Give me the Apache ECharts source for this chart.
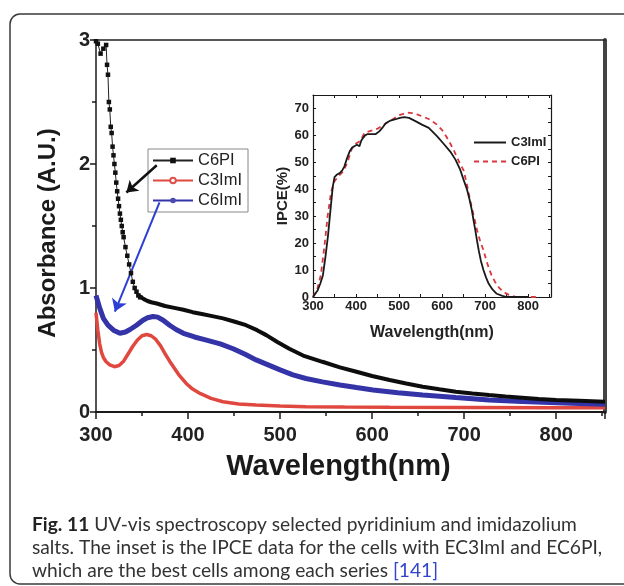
<!DOCTYPE html>
<html><head><meta charset="utf-8">
<script src="https://cdn.jsdelivr.net/npm/echarts@6/dist/echarts.min.js"></script>
<style>html,body{margin:0;padding:0;background:#fff}#c{width:624px;height:586px}</style>
</head><body><div id="c"></div>
<script>
// ---------- Main chart: UV-vis absorbance ----------
const xTickLabels = [300, 400, 500, 600, 700, 800];
const yTickLabels = [0, 1, 2, 3];

const c6piNm = [300,302,305,308,311,312,313,314,315,316,317,318,319,320,321,322,323,324,325,326,327,328,329,330,332,334,336,338,340,342,344,346,348,352,356,360,366,375,385,395,405,415,425,438,450,463,475,485,497,510,525,546,565,583,600,619,637,655,673,691,709,727,745,763,781,800,825,853];
const c6piAbs = [2.99,2.97,2.89,2.93,2.96,2.80,2.72,2.50,2.44,2.30,2.25,2.14,2.07,2.00,1.93,1.85,1.78,1.72,1.66,1.60,1.55,1.50,1.45,1.41,1.33,1.26,1.19,1.12,1.05,1.00,0.97,0.94,0.925,0.91,0.895,0.885,0.875,0.855,0.84,0.825,0.805,0.79,0.775,0.755,0.73,0.70,0.66,0.62,0.565,0.51,0.455,0.405,0.36,0.325,0.29,0.258,0.23,0.204,0.183,0.164,0.15,0.137,0.125,0.115,0.105,0.097,0.09,0.082];

const c3imiNm = [300,302,304,306,308,311,315,320,325,330,335,340,345,350,355,360,365,370,375,380,385,390,398,405,413,425,438,455,474,500,528,570,619,700,800,853];
const c3imiAbs = [0.80,0.66,0.55,0.48,0.44,0.405,0.38,0.365,0.375,0.41,0.47,0.53,0.58,0.615,0.625,0.615,0.585,0.535,0.47,0.41,0.355,0.30,0.23,0.185,0.15,0.11,0.083,0.065,0.056,0.048,0.043,0.04,0.038,0.036,0.035,0.035];

const c6imiNm = [300,304,308,313,319,326,332,337,344,351,356,362,367,373,380,387,395,407,420,435,449,462,474,487,500,514,528,546,565,583,601,628,655,691,727,763,800,825,853];
const c6imiAbs = [0.94,0.84,0.755,0.70,0.66,0.635,0.645,0.665,0.70,0.74,0.76,0.77,0.765,0.74,0.70,0.665,0.635,0.605,0.58,0.55,0.51,0.465,0.42,0.38,0.34,0.30,0.27,0.243,0.218,0.197,0.177,0.155,0.137,0.116,0.097,0.085,0.075,0.068,0.062];

// annotation arrows (data space: [nm, absorbance])
const arrowBlack = [[366, 1.99], [333, 1.77]];
const arrowBlue = [[369, 1.69], [320.5, 0.81]];

// ---------- Inset: IPCE ----------
const insetXTickLabels = [300, 400, 500, 600, 700, 800];
const insetYTickLabels = [0, 10, 20, 30, 40, 50, 60, 70];
const ipceC3Nm = [300,311,317,323,329,335,341,346,350,356,362,368,373,379,385,391,396,402,408,412,416,421,427,435,446,454,462,469,480,492,502,512,523,538,553,569,588,603,619,631,642,650,658,664,669,673,677,681,685,690,696,702,708,717,727,740,750,780,800];
const ipceC3 = [0,2.5,5,8,15,23,33,41,44.5,45.5,46,47,48.5,51.5,54,55.5,56,56.5,56,58,59,60,60.5,60.5,60.5,61.5,63,64.5,65.5,66,66.5,66.8,66.5,65.3,64,62.8,59.7,57,54,51,47.3,43.5,39.8,36,32.3,28.5,24.9,21,17.4,13.5,10,7.3,5,2.8,1.2,0.4,0,0,0];
const ipceC6Nm = [300,310,318,326,334,342,350,360,370,380,390,400,410,420,430,440,450,460,470,480,490,500,510,520,530,542,555,570,588,600,610,619,630,640,650,658,665,673,681,688,696,702,708,715,723,732,742,755,773,800,820];
const ipceC6 = [0,3,8,18,30,39,43,45,46.5,50,55,57,58,61,61.5,62,62.5,63.5,64.5,65.5,66.5,67.5,68,68.5,68.3,67.8,67,66,64,62,59.5,57,53.5,50,47,41.5,36,30.5,25,21,17.4,14,11,8,5.6,3.5,1.9,0.8,0,0,0];

const zip = (a, b) => a.map((v, i) => [v, b[i]]);
const c6pi = zip(c6piNm, c6piAbs);
const c6piSteep = c6pi.filter(p => p[0] <= 348);
const c6piTail = c6pi.filter(p => p[0] >= 346);

const F = 'Liberation Sans, Arial, sans-serif';
const FN = 'Liberation Sans Narrow, Arial Narrow, Liberation Sans, sans-serif';
const CF = 'Lato, Open Sans, sans-serif';
const dark = '#1a1a1a';

const chart = echarts.init(document.getElementById('c'), null, {renderer: 'canvas'});
chart.setOption({
  animation: false,
  backgroundColor: '#fff',
  title: {
    left: 27, top: 508,
    text: '{b|Fig. 11} UV-vis spectroscopy selected pyridinium and imidazolium\nsalts. The inset is the IPCE data for the cells with EC3ImI and EC6PI,\nwhich are the best cells among each series {l|[141]}',
    textStyle: {
      fontFamily: CF, fontSize: 19.2, fontWeight: 'normal', color: '#333', lineHeight: 23,
      rich: {
        b: {fontFamily: CF, fontSize: 19.2, fontWeight: 'bold', color: '#222', lineHeight: 23},
        l: {fontFamily: CF, fontSize: 19.2, color: '#3344cc', lineHeight: 23}
      }
    }
  },
  graphic: [{
    type: 'rect', silent: true,
    shape: {x: 10, y: 14, width: 700, height: 570, r: 10},
    style: {fill: 'none', stroke: '#3a3a3a', lineWidth: 1.5}
  }],
  legend: [{
    show: true, selectedMode: false, orient: 'vertical',
    left: 148, top: 149,
    data: ['C6PI', 'C3ImI', 'C6ImI'],
    borderColor: '#888', borderWidth: 1, padding: [3, 6, 3, 4],
    itemWidth: 40, itemHeight: 7, itemGap: 3,
    textStyle: {fontFamily: F, fontSize: 16.5, color: '#222'}
  }, {
    show: true, selectedMode: false, orient: 'vertical',
    left: 468, top: 131,
    data: ['IPCE C3ImI', 'IPCE C6PI'],
    formatter: n => n.replace('IPCE ', ''),
    itemWidth: 32, itemHeight: 10, itemGap: 6,
    itemStyle: {opacity: 0},
    textStyle: {fontFamily: FN, fontSize: 13, color: '#222', fontWeight: 'bold'}
  }],
  grid: [
    {left: 96, top: 40, width: 509, height: 372},
    {left: 313, top: 95, width: 238, height: 202}
  ],
  xAxis: [
    { // main bottom, major
      gridIndex: 0, type: 'value', position: 'bottom', min: 300, max: 853, interval: 100,
      axisLine: {onZero: false, lineStyle: {color: dark, width: 2}},
      axisTick: {inside: false, length: 7, lineStyle: {color: dark, width: 1.5}},
      splitLine: {show: false},
      axisLabel: {margin: 13, fontFamily: F, fontWeight: 'bold', fontSize: 20, color: '#222',
        formatter: v => xTickLabels.includes(v) ? String(v) : ''},
      name: 'Wavelength(nm)', nameLocation: 'middle', nameGap: 40,
      nameTextStyle: {fontFamily: F, fontWeight: 'bold', fontSize: 29, color: '#1a1a1a', padding: [0, 24, 0, 0]}
    },
    { // main bottom, minor ticks
      gridIndex: 0, type: 'value', position: 'bottom', min: 300, max: 853, interval: 50,
      axisLine: {show: false, onZero: false},
      axisTick: {inside: false, length: 4, lineStyle: {color: dark, width: 1.5}},
      splitLine: {show: false}, axisLabel: {show: false}
    },
    { // main top frame
      gridIndex: 0, type: 'value', position: 'top', min: 300, max: 853,
      axisLine: {onZero: false, lineStyle: {color: '#222', width: 1.5}},
      axisTick: {show: false}, axisLabel: {show: false}, splitLine: {show: false}
    },
    { // inset bottom
      gridIndex: 1, type: 'value', position: 'bottom', min: 300, max: 853, interval: 50,
      axisLine: {onZero: false, lineStyle: {color: dark, width: 1.2}},
      axisTick: {inside: true, length: 3, lineStyle: {color: dark, width: 1}},
      splitLine: {show: false},
      axisLabel: {margin: 3, fontFamily: FN, fontWeight: 'bold', fontSize: 13, color: '#222',
        formatter: v => insetXTickLabels.includes(v) ? String(v) : ''},
      name: 'Wavelength(nm)', nameLocation: 'middle', nameGap: 28,
      nameTextStyle: {fontFamily: FN, fontWeight: 'bold', fontSize: 16, color: '#222'}
    },
    { // inset top
      gridIndex: 1, type: 'value', position: 'top', min: 300, max: 853, interval: 50,
      axisLine: {onZero: false, lineStyle: {color: dark, width: 1.2}},
      axisTick: {inside: true, length: 3, lineStyle: {color: dark, width: 1}},
      axisLabel: {show: false}, splitLine: {show: false}
    }
  ],
  yAxis: [
    { // main left
      gridIndex: 0, type: 'value', position: 'left', min: 0, max: 3, interval: 1,
      axisLine: {onZero: false, lineStyle: {color: dark, width: 1.5}},
      axisTick: {inside: false, length: 6, lineStyle: {color: dark, width: 1.5}},
      minorTick: {show: true, splitNumber: 2, length: 4, lineStyle: {color: dark, width: 1.5}},
      splitLine: {show: false},
      axisLabel: {margin: 6, fontFamily: F, fontWeight: 'bold', fontSize: 20, color: '#222',
        formatter: v => yTickLabels.includes(v) ? String(v) : ''},
      name: 'Absorbance (A.U.)', nameLocation: 'middle', nameGap: 36,
      nameTextStyle: {fontFamily: F, fontWeight: 'bold', fontSize: 24, color: '#1a1a1a', padding: [0, 14, 0, 0]}
    },
    { // main right frame (thick)
      gridIndex: 0, type: 'value', position: 'right', min: 0, max: 3,
      axisLine: {onZero: false, lineStyle: {color: '#444', width: 4}},
      axisTick: {show: false}, axisLabel: {show: false}, splitLine: {show: false}
    },
    { // inset left
      gridIndex: 1, type: 'value', position: 'left', min: 0, max: 75, interval: 5,
      axisLine: {onZero: false, lineStyle: {color: dark, width: 1.2}},
      axisTick: {inside: true, length: 3, lineStyle: {color: dark, width: 1}},
      splitLine: {show: false},
      axisLabel: {margin: 4, fontFamily: FN, fontWeight: 'bold', fontSize: 13, color: '#222',
        formatter: v => insetYTickLabels.includes(v) ? String(v) : ''},
      name: 'IPCE(%)', nameLocation: 'middle', nameGap: 22,
      nameTextStyle: {fontFamily: FN, fontWeight: 'bold', fontSize: 15, color: '#222'}
    },
    { // inset right
      gridIndex: 1, type: 'value', position: 'right', min: 0, max: 75, interval: 5,
      axisLine: {onZero: false, lineStyle: {color: dark, width: 1.2}},
      axisTick: {inside: true, length: 3, lineStyle: {color: dark, width: 1}},
      axisLabel: {show: false}, splitLine: {show: false}
    }
  ],
  series: [
    {
      name: 'C6PI', type: 'line', xAxisIndex: 0, yAxisIndex: 0, data: c6piSteep,
      symbol: 'rect', symbolSize: 4.5, showSymbol: true, itemStyle: {color: '#111'},
      lineStyle: {color: '#222', width: 1}, z: 5
    },
    {
      name: 'C6PI', type: 'line', xAxisIndex: 0, yAxisIndex: 0, data: c6piTail,
      symbol: 'rect', symbolSize: 4.5, showSymbol: false, itemStyle: {color: '#111'},
      lineStyle: {color: '#0d0d0d', width: 4}, z: 5,
      markLine: {
        silent: true, symbol: ['none', 'arrow'], symbolSize: 11,
        label: {show: false}, lineStyle: {color: '#111', width: 2.5, type: 'solid'},
        data: [[{coord: arrowBlack[0]}, {coord: arrowBlack[1]}]]
      }
    },
    {
      name: 'C3ImI', type: 'line', xAxisIndex: 0, yAxisIndex: 0, data: zip(c3imiNm, c3imiAbs),
      symbol: 'emptyCircle', symbolSize: 4, showSymbol: false,
      itemStyle: {color: '#e0504a', borderColor: '#e0504a'},
      lineStyle: {color: '#e0483f', width: 3.5}, z: 3
    },
    {
      name: 'C6ImI', type: 'line', xAxisIndex: 0, yAxisIndex: 0, data: zip(c6imiNm, c6imiAbs),
      symbol: 'circle', symbolSize: 4, showSymbol: false,
      itemStyle: {color: '#4a4ab0'},
      lineStyle: {color: '#3434a8', width: 5}, z: 4,
      markLine: {
        silent: true, symbol: ['none', 'arrow'], symbolSize: 12,
        label: {show: false}, lineStyle: {color: '#2b3fd4', width: 2, type: 'solid'},
        data: [[{coord: arrowBlue[0]}, {coord: arrowBlue[1]}]]
      }
    },
    {
      name: 'IPCE C3ImI', type: 'line', xAxisIndex: 3, yAxisIndex: 2, data: zip(ipceC3Nm, ipceC3),
      symbol: 'none', lineStyle: {color: '#1a1a1a', width: 1.8}, itemStyle: {color: '#1a1a1a'}, z: 6
    },
    {
      name: 'IPCE C6PI', type: 'line', xAxisIndex: 3, yAxisIndex: 2, data: zip(ipceC6Nm, ipceC6),
      symbol: 'none', lineStyle: {color: '#d9363e', width: 1.8, type: [5, 4]}, itemStyle: {color: '#d9363e'}, z: 5
    }
  ]
});
</script>
</body></html>
